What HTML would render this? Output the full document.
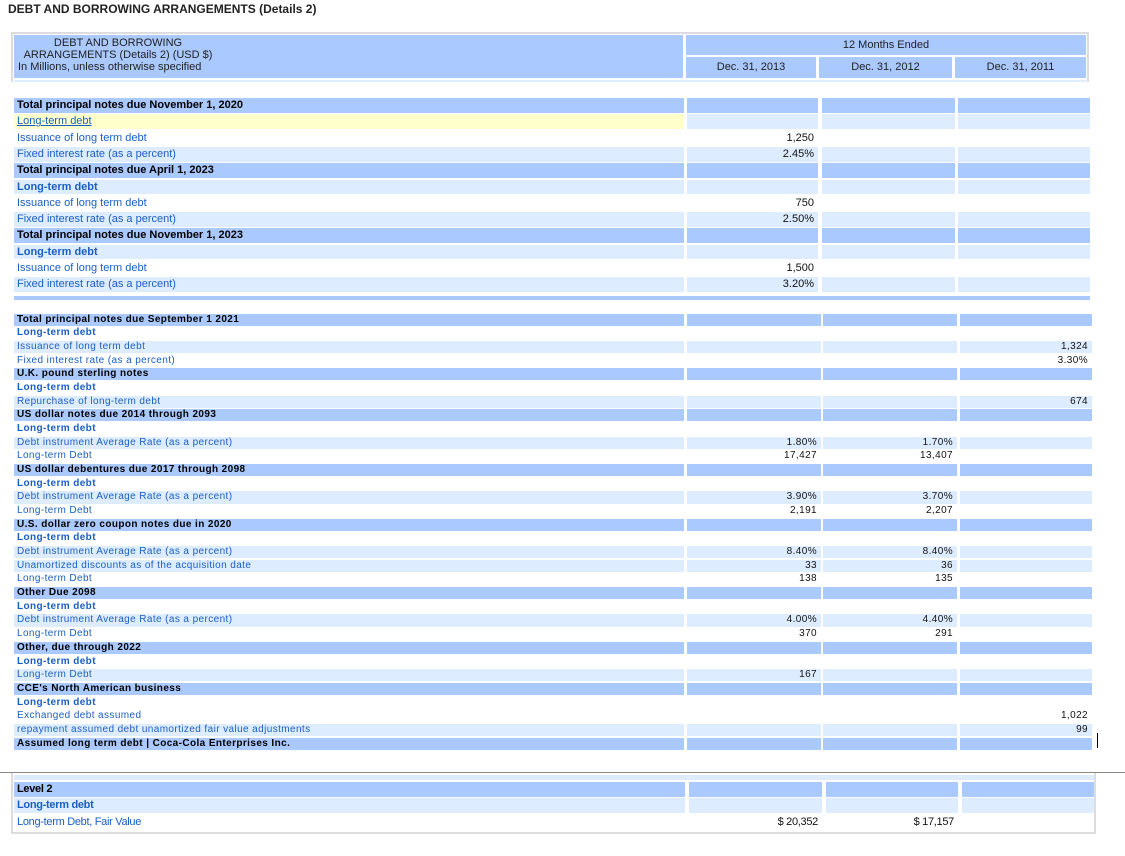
<!DOCTYPE html>
<html><head><meta charset="utf-8">
<style>
body{margin:0;width:1125px;height:856px;background:#fff;position:relative;overflow:hidden;font-family:"Liberation Sans",Arial,sans-serif;}
.c{position:absolute;box-sizing:border-box;white-space:nowrap;overflow:hidden;}
.h{background:#aac9ff;}
.l{background:#deecff;}
.w{background:#fff;}
.y{background:#ffffcc;}
.t{color:#1a5fc4;}
.b{font-weight:bold;}
.hk{color:#000;font-weight:bold;}
.r{text-align:right;padding-right:4px;color:#111;}
</style></head><body>
<div class="c" style="left:8px;top:2px;font-size:12px;font-weight:bold;color:#222;">DEBT AND BORROWING ARRANGEMENTS (Details 2)</div>

<div class="c" style="left:11px;top:32px;width:1078px;height:50px;border-top:2px solid #ddd;border-left:2px solid #ddd;border-right:2px solid #ddd;"></div>
<div class="c h" style="left:14px;top:35px;width:669px;height:43px;font-size:11px;color:#222;line-height:12px;padding-top:2px;padding-left:4px;">
<div style="width:200px;text-align:center;">DEBT AND BORROWING<br>ARRANGEMENTS (Details 2) (USD $)</div>In Millions, unless otherwise specified</div>
<div class="c h" style="left:686px;top:35px;width:400px;height:20px;font-size:11px;color:#222;text-align:center;line-height:20px;">12 Months Ended</div>
<div class="c h" style="left:686px;top:57px;width:130px;height:21px;font-size:11px;color:#222;text-align:center;line-height:21px;">Dec. 31, 2013</div>
<div class="c h" style="left:819px;top:57px;width:133px;height:21px;font-size:11px;color:#222;text-align:center;line-height:21px;">Dec. 31, 2012</div>
<div class="c h" style="left:955px;top:57px;width:131px;height:21px;font-size:11px;color:#222;text-align:center;line-height:21px;">Dec. 31, 2011</div>
<div class="c l" style="left:14px;top:80px;width:1072px;height:2px;"></div>

<div class="c" style="left:0;top:772px;width:1125px;height:1px;background:#888;"></div>
<div class="c" style="left:11px;top:773px;width:1085px;height:61px;border:2px solid #ddd;border-top:none;"></div>

<div id="root"></div>
<script>
const rowsB = [
 ["Total principal notes due November 1, 2020","h","","",""],
 ["Long-term debt","y","","",""],
 ["Issuance of long term debt","w","1,250","",""],
 ["Fixed interest rate (as a percent)","l","2.45%","",""],
 ["Total principal notes due April 1, 2023","h","","",""],
 ["Long-term debt","l","","",""],
 ["Issuance of long term debt","w","750","",""],
 ["Fixed interest rate (as a percent)","l","2.50%","",""],
 ["Total principal notes due November 1, 2023","h","","",""],
 ["Long-term debt","l","","",""],
 ["Issuance of long term debt","w","1,500","",""],
 ["Fixed interest rate (as a percent)","l","3.20%","",""]
];
const rowsC = [
 ["Total principal notes due September 1 2021","h","","",""],
 ["Long-term debt","w","","",""],
 ["Issuance of long term debt","l","","","1,324"],
 ["Fixed interest rate (as a percent)","w","","","3.30%"],
 ["U.K. pound sterling notes","h","","",""],
 ["Long-term debt","w","","",""],
 ["Repurchase of long-term debt","l","","","674"],
 ["US dollar notes due 2014 through 2093","h","","",""],
 ["Long-term debt","w","","",""],
 ["Debt instrument Average Rate (as a percent)","l","1.80%","1.70%",""],
 ["Long-term Debt","w","17,427","13,407",""],
 ["US dollar debentures due 2017 through 2098","h","","",""],
 ["Long-term debt","w","","",""],
 ["Debt instrument Average Rate (as a percent)","l","3.90%","3.70%",""],
 ["Long-term Debt","w","2,191","2,207",""],
 ["U.S. dollar zero coupon notes due in 2020","h","","",""],
 ["Long-term debt","w","","",""],
 ["Debt instrument Average Rate (as a percent)","l","8.40%","8.40%",""],
 ["Unamortized discounts as of the acquisition date","l","33","36",""],
 ["Long-term Debt","w","138","135",""],
 ["Other Due 2098","h","","",""],
 ["Long-term debt","w","","",""],
 ["Debt instrument Average Rate (as a percent)","l","4.00%","4.40%",""],
 ["Long-term Debt","w","370","291",""],
 ["Other, due through 2022","h","","",""],
 ["Long-term debt","w","","",""],
 ["Long-term Debt","l","167","",""],
 ["CCE's North American business","h","","",""],
 ["Long-term debt","w","","",""],
 ["Exchanged debt assumed","w","","","1,022"],
 ["repayment assumed debt unamortized fair value adjustments","l","","","99"],
 ["Assumed long term debt | Coca-Cola Enterprises Inc.","h","","",""]
];
const rowsD = [
 ["Level 2","h","","",""],
 ["Long-term debt","l","","",""],
 ["Long-term Debt, Fair Value","w","$ 20,352","$ 17,157",""]
];
const root=document.getElementById('root');
function cell(x,y,w,h,cls,txt,fs,extra){
  const d=document.createElement('div');
  d.className='c '+cls;
  d.style.cssText=`left:${x}px;top:${y}px;width:${w}px;height:${h}px;font-size:${fs}px;line-height:${h}px;`+(extra||'');
  d.textContent=txt;
  root.appendChild(d);
  return d;
}
function section(rows,top,rowH,gap,cols,fs,ls,name){
  rows.forEach((r,i)=>{
    const y=top+i*rowH;
    const h=rowH-gap;
    const t=r[1];
    let cls=(t==='y'?'y':t);
    let tc = t==='h'?'hk':'t';
    if(r[0]==='Long-term debt' && t!=='y') tc+=' b';
    const lab=cell(cols[0][0],y,cols[0][1],h,cls+' '+tc,r[0],fs,`padding-left:3px;letter-spacing:${ls}px;`+(t==='y'?'text-decoration:underline;':''));
    
    
    for(let k=1;k<4;k++){
      const vc=(t==='y'?'l':t);
      const v=cell(cols[k][0],y,cols[k][1],h,vc+' r',r[k+1],fs,`letter-spacing:${ls}px;`);
      
      
    }
  });
}
section(rowsB,98,16.3,1.5,[[14,670],[687,131],[822,133],[958,132]],11,0,'section-b');
const cb=document.createElement('div');cb.className='c h';cb.style.cssText='left:14px;top:296px;width:1076px;height:4px;';


root.appendChild(cb);
section(rowsC,313.5,13.68,1.5,[[14,670],[687,134],[823,134],[960,132]],10,0.4,'section-c');
const vl=document.createElement('div');vl.className='c';vl.style.cssText='left:1097px;top:733px;width:1px;height:15px;background:#000;';


root.appendChild(vl);
const cd=document.createElement('div');cd.className='c l';cd.style.cssText='left:14px;top:775px;width:1080px;height:5px;';


root.appendChild(cd);
section(rowsD,782,16.4,1.5,[[14,671],[689,133],[826,132],[962,132]],11,-0.3,'section-d');
</script>
</body></html>
